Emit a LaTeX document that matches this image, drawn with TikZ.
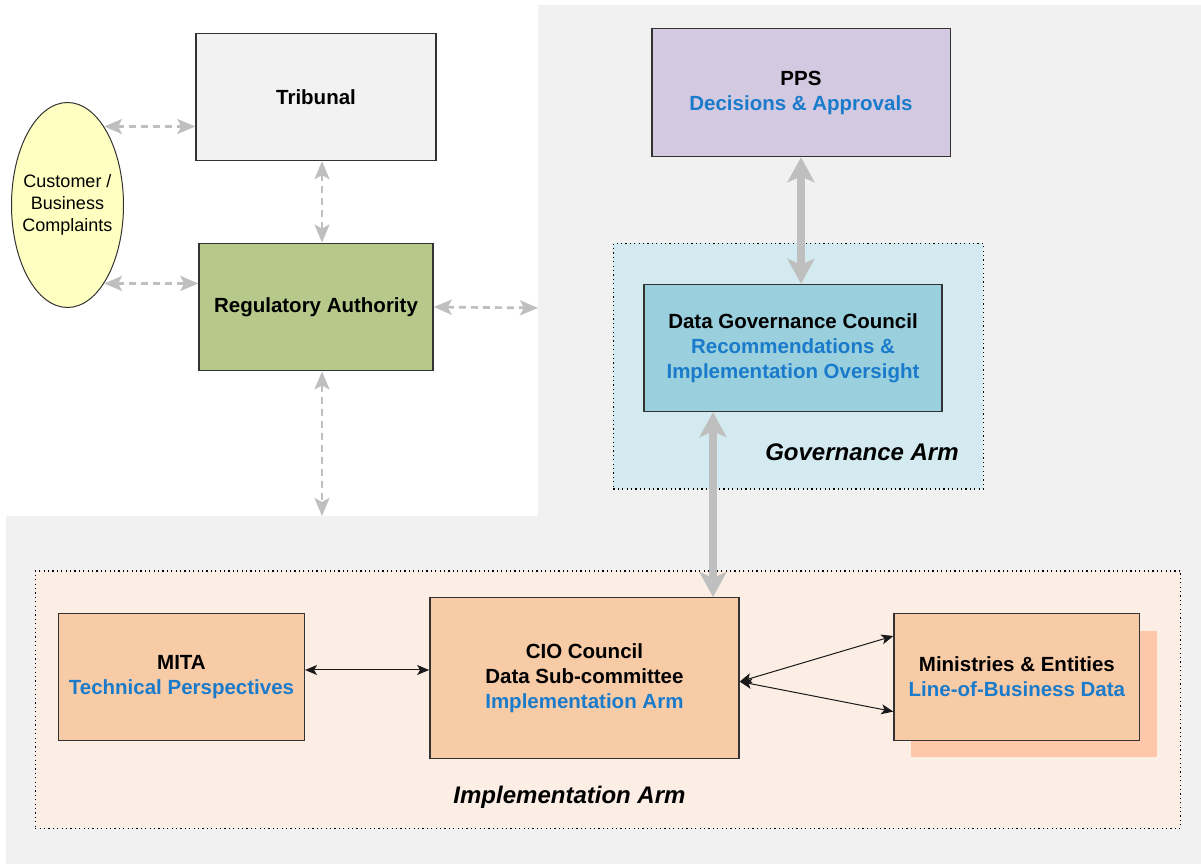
\documentclass[tikz,border=0pt]{standalone}
\usepackage{fontspec}
\setmainfont{Liberation Sans}
\usetikzlibrary{arrows.meta,shapes.geometric,shadows}

\definecolor{bggray}{HTML}{F1F1F1}
\definecolor{tribfill}{HTML}{F2F2F2}
\definecolor{custfill}{HTML}{FFFFC2}
\definecolor{rafill}{HTML}{B6C98A}
\definecolor{ppsfill}{HTML}{D3C9E0}
\definecolor{govfill}{HTML}{D2EAF0}
\definecolor{dgcfill}{HTML}{9ACFDD}
\definecolor{implfill}{HTML}{FCEEE4}
\definecolor{peach}{HTML}{F8CBA7}
\definecolor{shadowpeach}{HTML}{FEC7AA}
\definecolor{bluetext}{HTML}{1A7BCB}
\definecolor{arrowgray}{HTML}{BFBFBF}

\newcommand{\bluetxt}[1]{\textcolor{bluetext}{#1}}

\begin{document}
\begin{tikzpicture}[x=0.5pt,y=-0.5pt,
  box/.style={draw=black!80,line width=0.7pt,fill=peach,align=center,inner sep=2pt,
    font=\fontsize{10.25}{12.5}\selectfont\bfseries},
  arm/.style={draw=black,line width=0.6pt,dash pattern=on 0.6pt off 1.6pt},
  armlabel/.style={font=\fontsize{12}{14}\selectfont\bfseries\itshape},
  dasharrow/.style={draw=arrowgray,line width=1.35pt,dash pattern=on 3.5pt off 2.5pt,
    {Stealth[length=9pt,width=7.5pt,inset=2pt]}-{Stealth[length=9pt,width=7.5pt,inset=2pt]}},
  bigarrow/.style={draw=arrowgray,fill=arrowgray,line width=4pt,
    {Stealth[length=12.5pt,width=13.5pt,inset=3pt]}-{Stealth[length=12.5pt,width=13.5pt,inset=3pt]}},
  thinarrow/.style={draw=black!90,line width=0.5pt,
    {Stealth[length=6pt,width=5pt,inset=1.5pt]}-{Stealth[length=6pt,width=5pt,inset=1.5pt]}}]
  \tikzstyle{smallbox}=[box,minimum width=122.85pt,minimum height=63.3pt]

  \useasboundingbox[fill=white] (0,0) rectangle (1201,865);
  \fill[bggray] (538,5) -- (1201,5) -- (1201,864) -- (6,864) -- (6,516) -- (538,516) -- cycle;

  % arms
  \node[arm,fill=govfill,minimum width=185pt,minimum height=122.75pt] (govarm) at (798.4,366.25) {};
  \node[arm,fill=implfill,minimum width=572.75pt,minimum height=128.65pt] (implarm) at (608,699.7) {};
  \node[armlabel] (govlabel) at (862,452) {Governance Arm};
  \node[armlabel] (impllabel) at (569.5,797) {Implementation Arm};

  % left side
  \node[box,fill=tribfill,minimum width=120pt,minimum height=63.5pt] (trib) at (316,97) {Tribunal};
  \node[box,fill=rafill,minimum width=117pt,minimum height=63.75pt] (reg) at (316,307) {Regulatory Authority};
  \node[ellipse,draw=black!80,line width=0.5pt,fill=custfill,minimum width=56pt,minimum height=102.5pt,
    inner xsep=-4pt,inner ysep=0pt,align=center,font=\fontsize{9}{11}\selectfont] (cust) at (67.5,205) {Customer /\\Business\\Complaints};

  % governance
  \node[box,fill=ppsfill,minimum width=149.2pt,minimum height=64pt] (pps) at (801,92.6)
    {PPS\\\bluetxt{Decisions \& Approvals}};
  \node[box,fill=dgcfill,minimum width=149pt,minimum height=63.5pt] (dgc) at (793,348)
    {Data Governance Council\\\bluetxt{Recommendations \&}\\\bluetxt{Implementation Oversight}};

  % implementation
  \node[smallbox] (mita) at (181.5,677) {MITA\\\bluetxt{Technical Perspectives}};
  \node[box,minimum width=154.6pt,minimum height=80.3pt] (cio) at (584.4,678)
    {CIO Council\\Data Sub-committee\\\bluetxt{Implementation Arm}};
  \node[smallbox,drop shadow={shadow xshift=8.5pt,shadow yshift=-8.5pt,fill=shadowpeach,opacity=1}] (min) at (1016.9,677)
    {Ministries \& Entities\\\bluetxt{Line-of-Business Data}};

  \coordinate (govedge) at (538,308);
  \coordinate (impledge) at (322,516);

  \draw[dasharrow] (cust.65) -- (cust.65 -| trib.west);
  \draw[dasharrow] (cust.-65) -- (cust.-65 -| reg.west);
  \draw[dasharrow] ([xshift=3pt]trib.south) -- ([xshift=3pt]reg.north);
  \draw[dasharrow] (reg.east) -- (govedge);
  \draw[dasharrow] ([xshift=3pt]reg.south) -- (impledge);

  \draw[bigarrow] (pps.south) -- (pps.south |- dgc.north);
  \draw[bigarrow] ([xshift=-40pt]dgc.south) -- ([xshift=-40pt]dgc.south |- cio.north);

  \draw[thinarrow] ([yshift=3.5pt]mita.east) -- ([yshift=3.5pt]mita.east -| cio.west);
  \draw[thinarrow] ([yshift=-1.8pt]cio.east) -- ([yshift=20.5pt]min.west);
  \draw[thinarrow] ([yshift=-1.8pt]cio.east) -- ([yshift=-17.3pt]min.west);
\end{tikzpicture}
\end{document}
